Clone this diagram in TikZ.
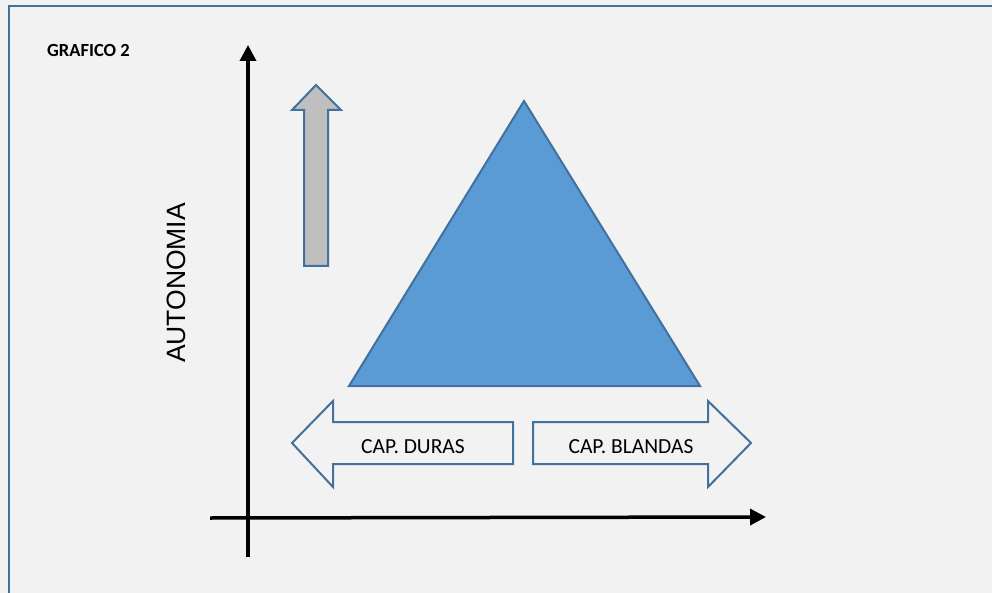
\documentclass[tikz,border=0pt]{standalone}
\usepackage{fontspec}
\setmainfont{Carlito}
\newfontfamily\arialfont{Liberation Sans}
\usetikzlibrary{arrows.meta}
\definecolor{bg}{HTML}{F2F2F2}
\definecolor{edgeblue}{HTML}{41719C}
\definecolor{fillblue}{HTML}{5B9BD5}
\definecolor{fillgray}{HTML}{BFBFBF}
\tikzset{
  shapeline/.style={draw=edgeblue, line width=2pt, line join=miter},
  axisline/.style={line width=3.5pt, -{Triangle[length=16pt,width=16pt]}},
  lbl/.style={inner sep=0pt, font=\fontsize{21.5}{25}\selectfont},
}
\begin{document}
\begin{tikzpicture}[x=1pt,y=-1pt]
\useasboundingbox (0,0) rectangle (992,593);
\fill[bg] (0,0) rectangle (992,593);
% frame (top and left edges)
\draw[edgeblue, line width=2.5pt] (9,593) -- (9,6) -- (992,6);
% title
\node[inner sep=0pt, anchor=west, font=\fontsize{18.5}{20}\selectfont\bfseries] (title) at (47,51) {GRAFICO 2};
% axes
\coordinate (ytop) at (248,45);
\coordinate (ybot) at (248,557);
\coordinate (xleft) at (210,518);
\coordinate (xright) at (766,517);
\draw[axisline] (ybot) -- (ytop);
\draw[axisline] (xleft) -- (xright);
% axis label
\node[inner sep=0pt, rotate=90, font=\arialfont\fontsize{26.5}{30}\selectfont] (ylabel) at (176,283) {AUTONOMIA};
% gray up arrow
\draw[shapeline, fill=fillgray] (316,85) -- (341,110) -- (328,110) -- (328,266) -- (304,266) -- (304,110) -- (292,110) -- cycle;
% triangle
\draw[shapeline, fill=fillblue] (524,101) -- (700,386) -- (349,386) -- cycle;
% left arrow
\draw[shapeline, fill=bg] (292,443) -- (333,401) -- (333,422) -- (513,422) -- (513,464) -- (333,464) -- (333,487) -- cycle;
\node[lbl] (duras) at (413,447) {CAP. DURAS};
% right arrow
\draw[shapeline, fill=bg] (751,443) -- (708,401) -- (708,422) -- (533,422) -- (533,464) -- (708,464) -- (708,487) -- cycle;
\node[lbl] (blandas) at (631,447) {CAP. BLANDAS};
\end{tikzpicture}
\end{document}
